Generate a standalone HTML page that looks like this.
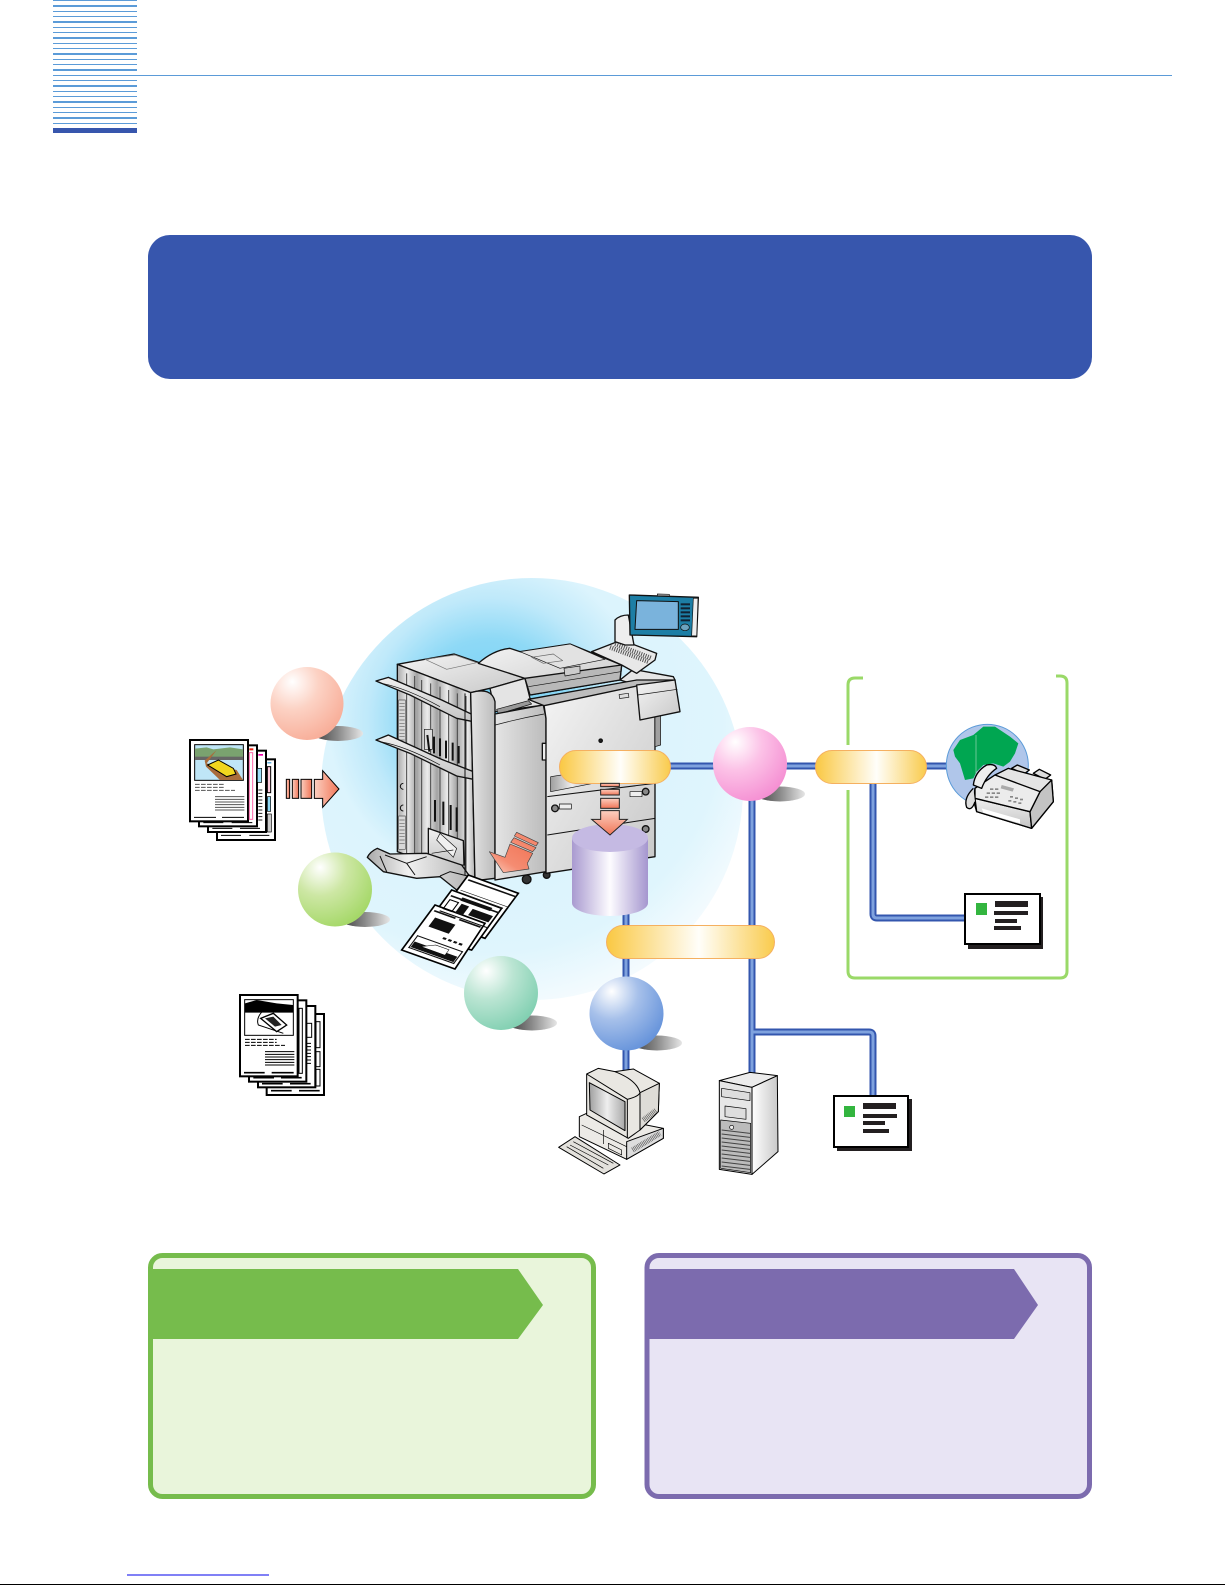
<!DOCTYPE html>
<html><head><meta charset="utf-8"><style>html,body{margin:0;padding:0;background:#fff;width:1225px;height:1585px;overflow:hidden}svg{display:block}</style></head><body>
<svg xmlns="http://www.w3.org/2000/svg" width="1225" height="1585" viewBox="0 0 1225 1585">
<defs>
<radialGradient id="glow" gradientUnits="userSpaceOnUse" cx="490" cy="720" r="290"><stop offset="0" stop-color="#70cef4"/><stop offset=".28" stop-color="#8ed9f6"/><stop offset=".42" stop-color="#bfe9fa"/><stop offset=".56" stop-color="#dcf4fd"/><stop offset=".8" stop-color="#dff5fd"/><stop offset="1" stop-color="#f4fbfe"/></radialGradient>
<radialGradient id="sr" cx=".3" cy=".25" r=".8" fx=".3" fy=".2"><stop offset="0" stop-color="#fff"/><stop offset=".45" stop-color="#fcd2c4"/><stop offset="1" stop-color="#f8ae99"/></radialGradient>
<radialGradient id="sg" cx=".3" cy=".25" r=".8" fx=".3" fy=".2"><stop offset="0" stop-color="#fff"/><stop offset=".45" stop-color="#cde7a4"/><stop offset="1" stop-color="#a5d868"/></radialGradient>
<radialGradient id="st" cx=".3" cy=".25" r=".8" fx=".3" fy=".2"><stop offset="0" stop-color="#fff"/><stop offset=".45" stop-color="#bbe5d3"/><stop offset="1" stop-color="#82d0b2"/></radialGradient>
<radialGradient id="sp" cx=".3" cy=".25" r=".8" fx=".3" fy=".2"><stop offset="0" stop-color="#fff"/><stop offset=".45" stop-color="#fcc2e7"/><stop offset="1" stop-color="#f590d3"/></radialGradient>
<radialGradient id="sb" cx=".3" cy=".25" r=".8" fx=".3" fy=".2"><stop offset="0" stop-color="#fff"/><stop offset=".45" stop-color="#a6c0ea"/><stop offset="1" stop-color="#6794db"/></radialGradient>
<linearGradient id="shad" x1="0" x2="1" y1="0" y2="0"><stop offset="0" stop-color="#3c3c3c"/><stop offset=".5" stop-color="#8a8a8a"/><stop offset="1" stop-color="#e6e6e6"/></linearGradient>
<linearGradient id="pill"><stop offset="0" stop-color="#fac842"/><stop offset=".55" stop-color="#fffefa"/><stop offset="1" stop-color="#f9cb4c"/></linearGradient>
<linearGradient id="cyl"><stop offset="0" stop-color="#a99ad0"/><stop offset=".5" stop-color="#fdfcff"/><stop offset="1" stop-color="#a596cf"/></linearGradient>
<linearGradient id="arv" x1="0" x2="0" y1="0" y2="1"><stop offset="0" stop-color="#fbcfc0"/><stop offset="1" stop-color="#f17658"/></linearGradient>
<linearGradient id="ard" x1="1" x2="0" y1="0" y2="1"><stop offset="0" stop-color="#f17658"/><stop offset=".6" stop-color="#f58c72"/><stop offset="1" stop-color="#fbcfc0"/></linearGradient>
<linearGradient id="arh" x1="0" x2="1" y1="0" y2="0"><stop offset="0" stop-color="#fbcfc0"/><stop offset="1" stop-color="#f17658"/></linearGradient>
<linearGradient id="gy" x1="0" x2="1" y1="0" y2="0"><stop offset="0" stop-color="#e4e4e4"/><stop offset="1" stop-color="#bcbcbc"/></linearGradient>
<linearGradient id="gy2" x1="0" x2="1" y1="0" y2="1"><stop offset="0" stop-color="#f4f4f4"/><stop offset="1" stop-color="#c8c8c8"/></linearGradient>
<linearGradient id="gy3" x1="0" x2="1" y1="0" y2="0"><stop offset="0" stop-color="#9f9f9f"/><stop offset=".5" stop-color="#eee"/><stop offset="1" stop-color="#a8a8a8"/></linearGradient>
<linearGradient id="gy4" x1="0" x2="0" y1="0" y2="1"><stop offset="0" stop-color="#f0f0f0"/><stop offset="1" stop-color="#c4c4c4"/></linearGradient>
<linearGradient id="gy5" x1="0" x2="1" y1="0" y2="0"><stop offset="0" stop-color="#aaa"/><stop offset=".4" stop-color="#f0f0f0"/><stop offset="1" stop-color="#b4b4b4"/></linearGradient>
<linearGradient id="wh" x1="0" x2="1" y1="0" y2="0"><stop offset="0" stop-color="#fff"/><stop offset="1" stop-color="#c9c9c9"/></linearGradient>
<linearGradient id="strip" gradientUnits="userSpaceOnUse" x1="172" x2="232" y1="0" y2="0" spreadMethod="repeat"><stop offset="0" stop-color="#a8a8a8"/><stop offset=".5" stop-color="#ececec"/><stop offset="1" stop-color="#a0a0a0"/></linearGradient>
</defs>

<!-- header stripes -->
<g fill="#5b9bd8">
<rect x="53" y="0" width="84" height="1"/><rect x="53" y="5" width="84" height="2"/><rect x="53" y="11" width="84" height="1"/><rect x="53" y="16" width="84" height="1"/>
<rect x="53" y="21" width="84" height="2"/><rect x="53" y="27" width="84" height="1"/><rect x="53" y="32" width="84" height="1"/>
<rect x="53" y="37" width="84" height="2"/><rect x="53" y="43" width="84" height="1"/><rect x="53" y="48" width="84" height="1"/>
<rect x="53" y="53" width="84" height="2"/><rect x="53" y="59" width="84" height="1"/><rect x="53" y="64" width="84" height="1"/>
<rect x="53" y="69" width="84" height="2"/><rect x="53" y="75" width="1119" height="1"/><rect x="53" y="80" width="84" height="1"/>
<rect x="53" y="85" width="84" height="2"/><rect x="53" y="91" width="84" height="1"/><rect x="53" y="96" width="84" height="1"/>
<rect x="53" y="101" width="84" height="2"/><rect x="53" y="107" width="84" height="1"/><rect x="53" y="112" width="84" height="1"/>
<rect x="53" y="117" width="84" height="2"/><rect x="53" y="123" width="84" height="1"/>
</g>
<rect x="53" y="128" width="84" height="5" fill="#3756ad"/>

<!-- blue banner -->
<rect x="148" y="235" width="944" height="144" rx="22" fill="#3756ad"/>

<!-- glow -->
<circle cx="532" cy="789" r="211" fill="url(#glow)"/>

<!-- connectors -->
<g fill="none" stroke-linejoin="round">
<g stroke="#3356ae" stroke-width="7">
<path d="M660 766H960"/><path d="M752 780V1080M752 1032H869Q873 1032 873 1036V1098"/><path d="M626 900V1080"/><path d="M873 780V914Q873 918 877 918H970"/>
</g>
<g stroke="#7fa2de" stroke-width="3">
<path d="M660 766H960"/><path d="M752 780V1080M752 1032H869Q873 1032 873 1036V1098"/><path d="M626 900V1080"/><path d="M873 780V914Q873 918 877 918H970"/>
</g>
</g>

<!-- green bracket -->
<path d="M863 678H855Q848 678 848 685V745M848 790V971Q848 978 855 978H1060Q1067 978 1067 971V683Q1067 676 1060 676H1056" fill="none" stroke="#9ad968" stroke-width="3"/>

<!-- shadows + spheres -->
<ellipse cx="338" cy="733.5" rx="25" ry="7.5" fill="url(#shad)"/>
<circle cx="307" cy="703.5" r="36.5" fill="url(#sr)"/>
<ellipse cx="365" cy="919.5" rx="25" ry="7.5" fill="url(#shad)"/>
<circle cx="335" cy="889.5" r="37" fill="url(#sg)"/>
<ellipse cx="532" cy="1023" rx="25" ry="7.5" fill="url(#shad)"/>
<circle cx="501" cy="993" r="37" fill="url(#st)"/>
<ellipse cx="780" cy="794" rx="25" ry="7.5" fill="url(#shad)"/>
<circle cx="750" cy="764" r="37" fill="url(#sp)"/>
<ellipse cx="657" cy="1043" rx="25" ry="7.5" fill="url(#shad)"/>
<circle cx="626.5" cy="1013.5" r="37" fill="url(#sb)"/>

<!-- printer -->
<g transform="translate(340,570) scale(.33333)" stroke="#111" stroke-width="4" stroke-linejoin="round">
<!-- casters -->
<circle cx="560" cy="928" r="13" fill="#333"/><circle cx="620" cy="915" r="10" fill="#333"/>
<!-- finisher -->
<polygon points="172,283 342,252 555,325 450,355 392,368" fill="url(#gy2)"/>
<path d="M255 268L345 255 410 278 320 298Z" fill="none" stroke="#777" stroke-width="2"/>
<polygon points="172,283 392,368 405,930 172,845" fill="url(#strip)"/>
<g fill="none" stroke="#444" stroke-width="3">
<path d="M200 310V855M224 318V862M245 330V870M272 340V880M300 350V890M326 360V900M352 370V905M378 378V915"/>
</g>
<g stroke="#555" stroke-width="2" fill="#d8d8d8"><rect x="176" y="390" width="20" height="140"/><rect x="176" y="738" width="20" height="100"/></g>
<g stroke="#666" stroke-width="2"><path d="M178 400h16M178 410h16M178 420h16M178 430h16M178 440h16M178 450h16M178 460h16M178 470h16M178 480h16M178 490h16M178 500h16M178 510h16M178 520h16M178 750h16M178 760h16M178 770h16M178 780h16M178 790h16M178 800h16M178 810h16M178 820h16"/></g>
<path d="M190 640a8 8 0 0 0 0 18M190 705a8 8 0 0 0 0 18" fill="none" stroke-width="3"/>
<rect x="253" y="478" width="24" height="60" fill="#ddd" stroke-width="2"/>
<g fill="none" stroke="#111" stroke-width="6"><path d="M262 495L268 545M282 500V550M300 505V558M318 512V565M338 518V572M356 528V580"/><path d="M285 690V755M310 695V765M332 705V780M350 712V785"/></g>
<polygon points="108,333 145,322 305,390 400,435 400,455 350,445 210,375" fill="url(#gy4)"/>
<path d="M125 340Q200 355 300 410" fill="none" stroke-width="2"/>
<polygon points="108,510 145,495 305,568 400,605 400,628 350,618 210,550" fill="url(#gy4)"/>
<path d="M125 516Q200 530 300 585" fill="none" stroke-width="2"/>
<polygon points="265,775 370,812 372,885 330,890 265,860" fill="url(#gy4)"/>
<path d="M290 810L300 790 350 835 340 862ZM275 850L340 840" fill="#f0f0f0" stroke-width="2"/>
<path d="M82 862Q90 845 112 835L150 852 260 850 365 885 390 920 350 960 300 920 230 925 130 905Z" fill="url(#gy5)"/>
<path d="M120 858L140 905M135 855L200 880 225 915M200 880L260 860M300 918L330 905 390 920" fill="none" stroke-width="3"/>
<!-- main top fill -->
<polygon points="450,355 555,325 570,385 612,405 465,425" fill="#e4e4e4"/>
<polygon points="470,418 565,392 575,402 475,432" fill="#999" stroke-width="2"/>
<!-- column -->
<path d="M392 368Q455 350 465 395V925L405 932Z" fill="url(#gy)"/>
<path d="M375 370V915" stroke-width="3" fill="none"/>
<!-- main door -->
<polygon points="465,432 610,405 618,445 618,905 465,930" fill="url(#gy)"/>
<path d="M466 465Q540 445 612 432" fill="none" stroke-width="2"/>
<rect x="607" y="520" width="20" height="50" fill="#eee"/>
<!-- right panel -->
<polygon points="612,405 890,345 945,440 945,860 618,910 618,445" fill="url(#gy2)"/>
<polygon points="945,440 962,435 962,525 945,530" fill="#a0a0a0" stroke-width="2"/>
<path d="M622 680L945 640M622 795L945 745" fill="none" stroke-width="3"/>
<polygon points="632,620 760,600 760,640 632,665" fill="url(#gy3)" stroke-width="2"/>
<circle cx="645" cy="715" r="10" fill="#888"/><rect x="658" y="702" width="36" height="15" fill="#eee" stroke-width="2"/>
<circle cx="917" cy="665" r="10" fill="#888"/><rect x="870" y="665" width="36" height="15" fill="#eee" stroke-width="2"/>
<circle cx="917" cy="777" r="10" fill="#888"/>
<circle cx="782" cy="512" r="5" fill="#222"/>
<!-- top -->
<polygon points="840,330 880,298 1000,320 1005,330 890,345" fill="#e6e6e6"/>
<polygon points="565,388 890,330 1005,330 890,348 612,407" fill="#bdbdbd"/>
<polygon points="890,345 1005,330 1020,425 900,450" fill="url(#gy2)"/>
<path d="M893 375L1012 358" fill="none" stroke-width="2"/>
<rect x="838" y="372" width="28" height="12" fill="#ddd" stroke-width="2" transform="rotate(-8 850 378)"/>
<!-- ADF -->
<path d="M415 280Q460 240 510 235L540 245 690 222 845 285 840 330 570 375 555 325Z" fill="url(#gy2)"/>
<polygon points="555,325 845,285 840,330 570,375" fill="#b8b8b8"/>
<path d="M565 350L842 305" stroke-width="2" fill="none"/>
<polygon points="540,245 690,222 795,268 660,295" fill="#e2e2e2" stroke-width="2"/>
<polygon points="672,295 720,288 720,310 675,318" fill="#ccc" stroke-width="2"/>
<polygon points="575,262 640,252 668,272 610,280" fill="none" stroke="#666" stroke-width="2"/>
<!-- exit tray + arm -->
<polygon points="755,245 845,210 950,250 945,270 890,310 845,285" fill="#e8e8e8"/>
<path d="M810 232L925 275M825 222L935 265" stroke="#555" stroke-width="14" stroke-dasharray="3 4" fill="none"/>
<path d="M825 215V150Q840 135 865 135L882 225 855 225Z" fill="#eee"/>
<!-- touch panel -->
<polygon points="868,75 1075,82 1070,200 870,195" fill="#1d7ea5"/>
<polygon points="952,72 988,73 988,78 952,77" fill="#ccc" stroke-width="2"/>
<polygon points="890,92 1015,95 1015,178 885,178" fill="#7ab3dc" stroke-width="3"/>
<polygon points="1060,85 1074,85 1070,198 1055,197" fill="#eee" stroke-width="2"/>
<g fill="#123" stroke="none"><rect x="1022" y="100" width="28" height="6"/><rect x="1022" y="112" width="28" height="6"/><rect x="1022" y="124" width="28" height="6"/><rect x="1022" y="136" width="28" height="6"/><rect x="1022" y="148" width="28" height="6"/></g>
<ellipse cx="1035" cy="172" rx="13" ry="10" fill="#6ca3bf" stroke-width="2"/>
<!-- arrow output -->
<g stroke-width="2" stroke="#444" fill="url(#ard)">
<polygon points="530,787 595,818 588,828 523,798"/>
<polygon points="522,803 588,833 578,845 512,817"/>
<polygon points="510,822 578,850 562,880 567,897 490,908 448,845 495,862"/>
</g>
</g>

<!-- output sheets -->
<g transform="translate(340,570) scale(.33333)" stroke="#000" stroke-width="5" fill="#fff">
<polygon points="285,1050 385,915 535,970 435,1105"/>
<polygon points="235,1095 335,960 485,1015 395,1140"/>
<polygon points="185,1140 285,1005 435,1060 345,1197"/>
<g transform="matrix(1.6 .57 1 -1.35 185 1140)" stroke="none" fill="#111">
<rect x="5" y="88" width="40" height="3"/><rect x="52" y="88" width="40" height="3"/>
<rect x="14" y="58" width="38" height="20"/>
<rect x="48" y="45" width="6" height="4"/><rect x="58" y="45" width="6" height="4"/><rect x="68" y="45" width="6" height="4"/><rect x="78" y="45" width="6" height="4"/>
<rect x="7" y="8" width="86" height="2"/><rect x="7" y="8" width="2" height="28"/><rect x="91" y="8" width="2" height="28"/><rect x="7" y="34" width="86" height="2"/>
<rect x="10" y="11" width="80" height="12"/>
<polygon points="25,18 45,30 70,30 70,18" fill="#fff" stroke="#000" stroke-width="1"/>
</g>
<g transform="matrix(1.6 .57 1 -1.35 235 1095)" stroke="none" fill="#111">
<rect x="5" y="88" width="90" height="3"/>
<rect x="8" y="62" width="16" height="20" fill="none" stroke="#000" stroke-width="2"/>
<rect x="30" y="62" width="14" height="20"/><rect x="52" y="66" width="38" height="14"/>
<rect x="5" y="55" width="90" height="2"/>
</g>
<g transform="matrix(1.6 .57 1 -1.35 285 1050)" stroke="none" fill="#111">
<rect x="5" y="90" width="90" height="3"/>
<rect x="18" y="62" width="70" height="2"/><rect x="16" y="50" width="56" height="7"/>
<rect x="5" y="68" width="90" height="1"/>
</g>
</g>

<!-- pills, cylinder, arrow -->
<rect x="559.5" y="750.5" width="111" height="33" rx="16.5" fill="url(#pill)" stroke="#f5b060" stroke-width="1"/>
<rect x="815.5" y="750.5" width="111" height="33" rx="16.5" fill="url(#pill)" stroke="#f5b060" stroke-width="1"/>
<rect x="606.5" y="925.5" width="168" height="33" rx="16.5" fill="url(#pill)" stroke="#f5b060" stroke-width="1"/>

<path d="M572 838V903A38 13 0 0 0 648 903V838Z" fill="url(#cyl)"/>
<ellipse cx="610" cy="838" rx="38" ry="14" fill="#c5bae3"/>
<g transform="translate(340,570) scale(.33333)" stroke="#222" stroke-width="3" fill="url(#arv)">
<rect x="782" y="640" width="56" height="10"/>
<rect x="782" y="658" width="56" height="17"/>
<rect x="782" y="685" width="56" height="30"/>
<polygon points="782,722 838,722 838,748 862,748 810,795 755,748 782,748"/>
</g>

<!-- left docs & arrow -->
<g transform="translate(170,650) scale(.33333)">
<g fill="#fff" stroke="#000" stroke-width="6">
<rect x="141" y="328" width="174" height="242"/><rect x="114" y="302" width="174" height="244"/><rect x="87" y="286" width="174" height="243"/><rect x="60" y="270" width="174" height="244"/>
</g>
<rect x="292" y="350" width="10" height="78" fill="#fcd" stroke="#000" stroke-width="3"/><rect x="262" y="355" width="13" height="42" fill="#9fe0fa" stroke="#000" stroke-width="2"/><rect x="292" y="492" width="12" height="54" fill="#ccc" stroke="#000" stroke-width="2"/><rect x="292" y="440" width="10" height="44" fill="#8fd8f5" stroke="#000" stroke-width="2"/>
<rect x="238" y="295" width="12" height="6" fill="#e21"/><rect x="265" y="312" width="14" height="5" fill="#e0a"/><rect x="292" y="337" width="12" height="3" fill="#18c"/><rect x="238" y="308" width="10" height="200" fill="none" stroke="#f6a" stroke-width="3"/>
<g stroke="#222" stroke-width="3"><path d="M265 420h12M265 430h12M265 440h12M265 450h12M265 460h12M265 470h12M265 480h12M265 490h12M265 500h12M265 510h12"/></g>
<rect x="74" y="284" width="146" height="107" fill="#bfe6f7" stroke="#000" stroke-width="3"/>
<polygon points="75,296 110,292 130,298 180,292 219,298 219,330 75,330" fill="#7aa26f"/>
<rect x="75" y="320" width="144" height="10" fill="#666"/>
<polygon points="104,332 140,300 110,340 200,360 219,390 150,390 108,350" fill="#a96c3c"/>
<polygon points="113,345 145,330 190,355 198,372 170,380" fill="#f1d61e" stroke="#000" stroke-width="3"/>
<g stroke="#555" stroke-width="3"><path d="M75 403h90M75 412h90M75 421h120" stroke-dasharray="14 4"/><path d="M135 440h88M135 448h88M135 456h88M135 464h88M135 472h88M135 480h88"/></g>
<g stroke="#000" stroke-width="3"><path d="M72 502h66M156 502h66M100 518h60M185 518h62M127 535h60M210 535h60M153 556h60M238 556h60"/></g>
<g stroke="#000" stroke-width="3">
<rect x="349" y="388" width="10" height="57" fill="url(#arh)"/><rect x="367" y="388" width="19" height="57" fill="url(#arh)"/><rect x="393" y="388" width="32" height="57" fill="url(#arh)"/>
<polygon points="433,388 458,388 458,362 507,417 458,472 458,445 433,445" fill="url(#arh)"/>
</g>
<g fill="#fff" stroke="#000" stroke-width="6">
<rect x="290" y="1092" width="172" height="243"/><rect x="264" y="1068" width="172" height="244"/><rect x="237" y="1051" width="172" height="244"/><rect x="210" y="1035" width="173" height="244"/>
</g>
<rect x="224" y="1049" width="146" height="107" fill="#fff" stroke="#000" stroke-width="3"/>
<polygon points="225,1060 260,1050 320,1060 369,1065 369,1088 225,1088" fill="#000"/>
<path d="M290 1072Q255 1100 265 1125L340 1150" fill="none" stroke="#000" stroke-width="3"/>
<polygon points="272,1105 310,1090 350,1125 320,1145" fill="#fff" stroke="#000" stroke-width="4"/>
<polygon points="285,1105 310,1100 335,1125 315,1130" fill="#222"/>
<g stroke="#000" stroke-width="3"><path d="M225 1168h95M225 1177h95M225 1186h120" stroke-dasharray="14 4"/><path d="M285 1205h88M285 1213h88M285 1221h88M285 1229h88M285 1237h88M285 1245h88"/></g>
<g stroke="#000" stroke-width="5"><path d="M222 1268h62M305 1268h66M250 1283h62M333 1283h62M276 1301h62M360 1301h62M303 1322h62M387 1322h62"/></g>
<g fill="none" stroke="#000" stroke-width="3"><rect x="387" y="1075" width="10" height="195"/><rect x="438" y="1115" width="12" height="78"/><rect x="410" y="1120" width="15" height="42"/><rect x="438" y="1205" width="12" height="45"/><rect x="438" y="1258" width="12" height="50"/></g>
<g stroke="#000" stroke-width="3"><path d="M410 1180h13M410 1190h13M410 1200h13M410 1210h13M410 1220h13M410 1230h13M410 1240h13"/></g>
</g>

<!-- globe + fax -->
<g transform="translate(940,720) scale(.33333)" stroke-linejoin="round">
<circle cx="142" cy="136" r="123" fill="#b0c6ea" stroke="#5b9bd8" stroke-width="3"/>
<polygon points="40,90 60,60 100,45 130,20 165,20 210,50 235,70 225,100 210,125 190,140 160,130 130,135 110,155 100,175 75,180 60,130 45,110" fill="#00a651"/>
<path d="M108 45V165" stroke="#9fd9b8" stroke-width="2"/>
<g stroke="#000" stroke-width="4">
<polygon points="215,145 232,135 268,150 252,162" fill="#ddd"/>
<polygon points="280,160 298,148 332,165 315,178" fill="#ddd"/>
<polygon points="165,165 205,145 335,180 340,245 275,325 110,275 100,240 105,205" fill="#e4e4e4"/>
<polygon points="105,235 270,275 275,325 110,275" fill="url(#gy4)"/>
<polygon points="300,215 335,180 340,245 275,325 270,275" fill="#c4c4c4"/>
<polygon points="105,205 165,165 300,215 270,275 105,235" fill="#ececec"/>
<path d="M100 195Q105 155 140 135Q165 130 170 145Q140 165 125 205Z" fill="#eee"/>
<path d="M100 205Q70 235 80 262Q95 275 105 245" fill="#ddd"/>
</g>
<polygon points="125,265 240,298 240,310 130,278" fill="#fff"/>
<polygon points="185,195 222,205 218,215 182,205" fill="#aaa"/>
<g fill="#888"><rect x="150" y="205" width="10" height="5"/><rect x="165" y="205" width="10" height="5"/><rect x="140" y="217" width="10" height="5"/><rect x="155" y="217" width="10" height="5"/><rect x="170" y="217" width="10" height="5"/><rect x="135" y="229" width="10" height="5"/><rect x="150" y="229" width="10" height="5"/><rect x="165" y="229" width="10" height="5"/><rect x="210" y="228" width="9" height="5"/><rect x="225" y="232" width="9" height="5"/><rect x="240" y="236" width="9" height="5"/><rect x="205" y="240" width="9" height="5"/><rect x="220" y="243" width="9" height="5"/><rect x="235" y="247" width="9" height="5"/></g>
</g>

<!-- cards -->
<rect x="968" y="897" width="75" height="52" fill="#231f20"/>
<rect x="965" y="894" width="75" height="50" fill="#fff" stroke="#000" stroke-width="2"/>
<rect x="976" y="903" width="11" height="12" fill="#33b53f"/>
<g fill="#231f20"><rect x="995" y="901" width="33" height="6"/><rect x="994" y="911" width="34" height="4"/><rect x="995" y="919" width="22" height="4"/><rect x="994" y="926" width="27" height="4"/></g>
<rect x="837" y="1099" width="75" height="52" fill="#231f20"/>
<rect x="834" y="1096" width="74" height="51" fill="#fff" stroke="#000" stroke-width="2"/>
<rect x="844" y="1106" width="11" height="11" fill="#33b53f"/>
<g fill="#231f20"><rect x="863" y="1103" width="33" height="6"/><rect x="863" y="1114" width="34" height="4"/><rect x="863" y="1121" width="22" height="4"/><rect x="863" y="1129" width="26" height="4"/></g>

<!-- computer -->
<g transform="translate(540,920) scale(.33333)" stroke="#000" stroke-width="3" stroke-linejoin="round">
<polygon points="118,590 140,580 370,625 370,655 260,718 118,650" fill="#eceae6"/>
<polygon points="260,665 370,625 370,655 260,718" fill="#ddd"/>
<path d="M278 690L360 640" stroke="#555" stroke-width="16" stroke-dasharray="2 3" fill="none"/>
<path d="M190 630V672M125 615L260 680" fill="none" stroke-width="2"/>
<polygon points="205,670 245,690 245,705 205,685" fill="none" stroke-width="2"/>
<polygon points="140,462 175,445 225,455 280,447 358,490 355,575 300,630 265,655 140,585" fill="#e9e7e2"/>
<polygon points="300,518 358,490 355,575 300,630" fill="#dedcd7"/>
<polygon points="148,488 255,545 255,632 150,570" fill="url(#gy3)"/>
<path d="M140 462L262 538M262 538V655M262 538Q295 530 300 518Q290 480 225 455" fill="none"/>
<path d="M310 600L350 570" stroke="#555" stroke-width="16" stroke-dasharray="2 3" fill="none"/>
<polygon points="56,682 105,650 240,735 192,762" fill="#e3e1dc"/>
<path d="M80 680L190 745M90 675L205 735M100 665L220 730" stroke-width="2" fill="none"/>
</g>
<!-- server -->
<g transform="translate(540,920) scale(.33333)" stroke="#000" stroke-width="3" stroke-linejoin="round">
<polygon points="538,482 630,457 712,467 636,502" fill="#ececec"/>
<polygon points="636,502 712,467 714,695 636,763" fill="url(#wh)"/>
<polygon points="538,482 636,502 636,763 538,748" fill="#e6e6e6"/>
<polygon points="545,505 630,518 630,542 545,530" fill="#ddd" stroke-width="2"/>
<polygon points="555,558 618,566 618,598 555,590" fill="#ddd" stroke-width="2"/>
<polygon points="542,600 632,610 632,758 542,745" fill="#bbb" stroke-width="2"/>
<g stroke="#444" stroke-width="3" fill="none"><path d="M545 630l85 10M545 642l85 10M545 654l85 10M545 666l85 10M545 678l85 10M545 690l85 10M545 702l85 10M545 714l85 10M545 726l85 10M545 738l85 10"/></g>
<circle cx="575" cy="622" r="6" fill="#eee" stroke-width="2"/>
</g>

<!-- bottom panels -->
<rect x="150.5" y="1255.5" width="443" height="241" rx="12" fill="#e9f5db" stroke="#76bc4c" stroke-width="5"/>
<polygon points="152,1269 518,1269 543,1305 518,1339 152,1339" fill="#76bc4c"/>
<rect x="647" y="1255.5" width="442.5" height="241" rx="12" fill="#e8e4f4" stroke="#7c6bae" stroke-width="5"/>
<polygon points="648.5,1269 1014,1269 1038,1305 1014,1339 648.5,1339" fill="#7c6bae"/>

<!-- footer -->
<rect x="127" y="1574.5" width="142" height="1" fill="#0000ee"/>
<rect x="0" y="1584" width="1225" height="1" fill="#000"/>
</svg>
</body></html>
